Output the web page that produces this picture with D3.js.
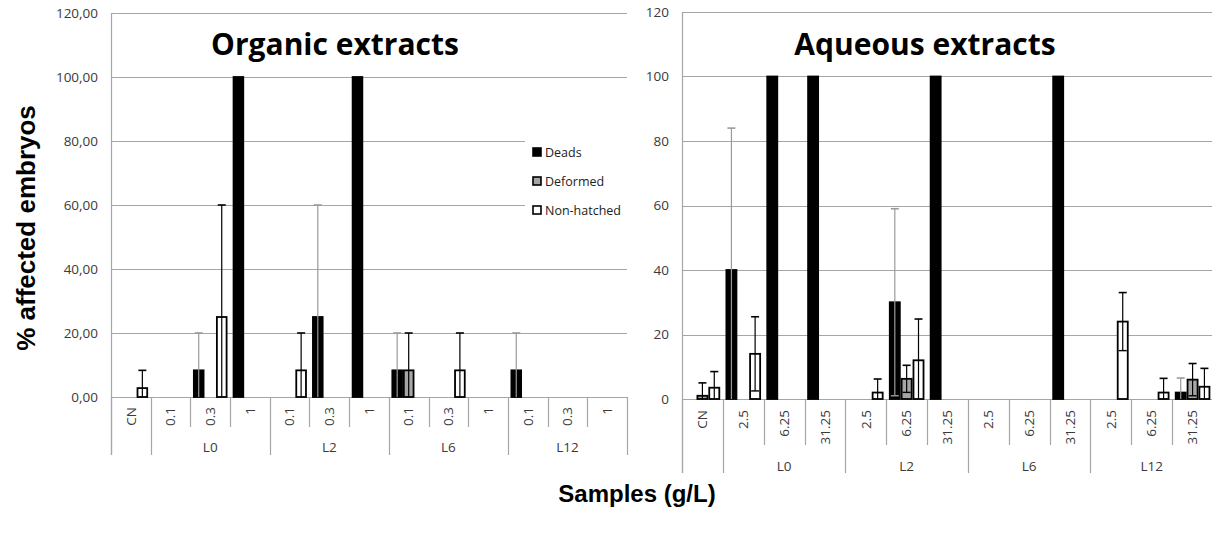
<!DOCTYPE html>
<html><head><meta charset="utf-8">
<script src="https://cdn.jsdelivr.net/npm/d3@7"></script>
<style>
html,body{margin:0;padding:0;background:#fff;}
svg{display:block;font-family:"Liberation Sans",Arial,sans-serif;}
</style></head>
<body><svg id="chart" width="1212" height="536"></svg>
<script>
// ---------------- DATA ----------------
const seriesNames = ["Deads", "Deformed", "Non-hatched"];
const groupNames = ["", "L0", "L2", "L6", "L12"];
const yTicks = [0, 20, 40, 60, 80, 100, 120];

// Organic extracts
const orgCategories = ["CN", "0.1", "0.3", "1", "0.1", "0.3", "1", "0.1", "0.3", "1", "0.1", "0.3", "1"];
const orgGroupOf   = [0, 1, 1, 1, 2, 2, 2, 3, 3, 3, 4, 4, 4];
const orgDeads        = [0, 0, 8.33, 100, 0, 25, 100, 8.33, 0, 0, 8.33, 0, 0];
const orgDeadsErr     = [0, 0, 11.67, 0, 0, 35, 0, 11.67, 0, 0, 11.67, 0, 0];
const orgDeformed     = [0, 0, 0, 0, 0, 0, 0, 8.33, 0, 0, 0, 0, 0];
const orgDeformedErr  = [0, 0, 0, 0, 0, 0, 0, 11.67, 0, 0, 0, 0, 0];
const orgNonHatched   = [2.78, 0, 25, 0, 8.33, 0, 0, 0, 8.33, 0, 0, 0, 0];
const orgNonHatchedErr= [5.55, 0, 35, 0, 11.67, 0, 0, 0, 11.67, 0, 0, 0, 0];

// Aqueous extracts
const aqCategories = ["CN", "2.5", "6.25", "31.25", "2.5", "6.25", "31.25", "2.5", "6.25", "31.25", "2.5", "6.25", "31.25"];
const aqGroupOf   = [0, 1, 1, 1, 2, 2, 2, 3, 3, 3, 4, 4, 4];
const aqDeads        = [0, 40, 100, 100, 0, 30, 100, 0, 0, 100, 0, 0, 2];
const aqDeadsErr     = [0, 44, 0, 0, 0, 29, 0, 0, 0, 0, 0, 0, 4.5];
const aqDeformed     = [1, 0, 0, 0, 0, 6.25, 0, 0, 0, 0, 0, 0, 6];
const aqDeformedErr  = [4, 0, 0, 0, 0, 4.2, 0, 0, 0, 0, 0, 0, 5];
const aqNonHatched   = [3.5, 14, 0, 0, 2, 12, 0, 0, 0, 0, 24, 2, 3.8];
const aqNonHatchedErr= [5, 11.5, 0, 0, 4.2, 12.8, 0, 0, 0, 0, 9, 4.4, 5.7];

// ---------------- STYLE ----------------
const fills = ["#000000", "#a6a6a6", "#ffffff"];
const errColors = ["#9a9a9a", "#000000", "#000000"];
const gridColor = "#a6a6a6";
const textColor = "#3a3a3a";
const labelFont = "'Open Sans', 'Liberation Sans', Arial, sans-serif";

const svg = d3.select("#chart");

function drawPanel(cfg) {
  const g = svg.append("g");
  const x = d3.scaleBand().domain(d3.range(cfg.categories.length)).range([cfg.x0, cfg.x1]).padding(0);
  const y = d3.scaleLinear().domain([0, 120]).range([cfg.yBase, cfg.yTop]);
  const bw = x.bandwidth() * 0.29;

  // gridlines
  g.append("g").selectAll("line").data(yTicks).join("line")
    .attr("x1", cfg.x0).attr("x2", cfg.x1)
    .attr("y1", d => Math.round(y(d)) + 0.5).attr("y2", d => Math.round(y(d)) + 0.5)
    .attr("stroke", gridColor).attr("stroke-width", 1.2);

  // legend cover (white box)
  if (cfg.legend) {
    g.append("rect").attr("x", cfg.legend.x - 8).attr("y", cfg.legend.y - 22)
      .attr("width", 110).attr("height", 95).attr("fill", "#fff");
  }

  // y axis line
  g.append("line").attr("x1", cfg.x0 + 0.5).attr("x2", cfg.x0 + 0.5)
    .attr("y1", y(120)).attr("y2", cfg.groupBottom)
    .attr("stroke", gridColor).attr("stroke-width", 1.2);

  // y tick labels
  const yAxis = d3.axisLeft(y).tickValues(yTicks).tickSize(0).tickPadding(0)
    .tickFormat(cfg.tickFormat);
  const ya = g.append("g").attr("transform", `translate(${cfg.labelRight},0)`).call(yAxis);
  ya.select(".domain").remove();
  ya.selectAll("text").attr("fill", textColor).style("font-size", "13.5px")
    .style("font-family", labelFont);

  // category separators
  const cats = cfg.categories.map((c, i) => i);
  const bounds = d3.range(cfg.categories.length + 1);
  g.append("g").selectAll("line").data(bounds).join("line")
    .attr("x1", i => Math.round(i < cfg.categories.length ? x(i) : cfg.x1) + 0.5)
    .attr("x2", i => Math.round(i < cfg.categories.length ? x(i) : cfg.x1) + 0.5)
    .attr("y1", cfg.yBase)
    .attr("y2", i => {
      const isGroupBound = i === 0 || i === cfg.categories.length || cfg.groupOf[i] !== cfg.groupOf[i - 1];
      return isGroupBound ? cfg.groupBottom : cfg.catBottom;
    })
    .attr("stroke", gridColor).attr("stroke-width", 1.2);

  // category labels
  g.append("g").selectAll("text").data(cats).join("text")
    .attr("transform", i => `translate(${x(i) + x.bandwidth() / 2},${cfg.yBase + cfg.catLabelOffset}) rotate(-90)`)
    .attr("text-anchor", "end").attr("dy", "0.35em")
    .attr("fill", textColor).style("font-size", "13.5px")
    .style("font-family", labelFont)
    .text(i => cfg.categories[i]);

  // group labels
  const groups = d3.groups(cats, i => cfg.groupOf[i]).filter(d => groupNames[d[0]] !== "");
  g.append("g").selectAll("text").data(groups).join("text")
    .attr("x", d => (x(d[1][0]) + x(d[1][d[1].length - 1]) + x.bandwidth()) / 2)
    .attr("y", cfg.groupLabelY)
    .attr("text-anchor", "middle").attr("fill", textColor).style("font-size", "13.5px")
    .style("font-family", labelFont)
    .text(d => groupNames[d[0]]);

  // bars
  const series = [cfg.deads, cfg.deformed, cfg.nonHatched];
  const errs = [cfg.deadsErr, cfg.deformedErr, cfg.nonHatchedErr];
  const barData = [];
  series.forEach((vals, s) => vals.forEach((v, i) => {
    barData.push({s, i, v, e: errs[s][i]});
  }));
  const barX = d => x(d.i) + x.bandwidth() / 2 + (d.s - 1.5) * bw;
  g.append("g").selectAll("rect").data(barData.filter(d => d.v > 0)).join("rect")
    .attr("x", d => barX(d) + 0.9).attr("width", bw - 1.8)
    .attr("y", d => y(d.v)).attr("height", d => y(0) - y(d.v))
    .attr("fill", d => fills[d.s]).attr("stroke", "#000").attr("stroke-width", 1.8);

  // error bars (symmetric, clipped to axis range)
  const errData = barData.filter(d => d.e > 0);
  const eg = g.append("g");
  const cx = d => barX(d) + bw / 2;
  eg.selectAll("line.v").data(errData).join("line").attr("class", "v")
    .attr("x1", cx).attr("x2", cx)
    .attr("y1", d => y(Math.max(0, d.v - d.e))).attr("y2", d => y(Math.min(120, d.v + d.e)))
    .attr("stroke", d => errColors[d.s]).attr("stroke-width", 1.2);
  eg.selectAll("line.top").data(errData).join("line").attr("class", "top")
    .attr("x1", d => cx(d) - 4).attr("x2", d => cx(d) + 4)
    .attr("y1", d => y(d.v + d.e)).attr("y2", d => y(d.v + d.e))
    .attr("stroke", d => errColors[d.s]).attr("stroke-width", 1.6);
  eg.selectAll("line.bot").data(errData.filter(d => d.v - d.e > 0)).join("line").attr("class", "bot")
    .attr("x1", d => cx(d) - 4).attr("x2", d => cx(d) + 4)
    .attr("y1", d => y(d.v - d.e)).attr("y2", d => y(d.v - d.e))
    .attr("stroke", d => errColors[d.s]).attr("stroke-width", 1.4);

  // title
  g.append("text").attr("x", cfg.titleX).attr("y", 55).attr("text-anchor", "middle")
    .style("font-family", labelFont)
    .style("font-size", "30px").style("font-weight", "bold").attr("fill", "#000")
    .text(cfg.title);

  // legend
  if (cfg.legend) {
    const lg = g.append("g").attr("transform", `translate(${cfg.legend.x},${cfg.legend.y})`);
    seriesNames.forEach((n, s) => {
      const row = lg.append("g").attr("transform", `translate(0,${s * 29})`);
      row.append("rect").attr("x", 0).attr("y", -9).attr("width", 8).attr("height", 8)
        .attr("fill", fills[s]).attr("stroke", "#000").attr("stroke-width", 1.6);
      row.append("text").attr("x", 12).attr("y", 0).attr("fill", "#222")
        .style("font-size", "12.5px")
        .style("font-family", labelFont)
        .text(n);
    });
  }
}

drawPanel({
  categories: orgCategories, groupOf: orgGroupOf,
  deads: orgDeads, deadsErr: orgDeadsErr, deformed: orgDeformed, deformedErr: orgDeformedErr,
  nonHatched: orgNonHatched, nonHatchedErr: orgNonHatchedErr,
  x0: 111, x1: 627, yBase: 397, yTop: 13,
  catBottom: 427, groupBottom: 455, catLabelOffset: 10, groupLabelY: 452,
  labelRight: 98, tickFormat: d => d3.format(".2f")(d).replace(".", ","),
  title: "Organic extracts", titleX: 335,
  legend: {x: 533, y: 157}
});

drawPanel({
  categories: aqCategories, groupOf: aqGroupOf,
  deads: aqDeads, deadsErr: aqDeadsErr, deformed: aqDeformed, deformedErr: aqDeformedErr,
  nonHatched: aqNonHatched, nonHatchedErr: aqNonHatchedErr,
  x0: 682, x1: 1213, yBase: 399, yTop: 12,
  catBottom: 445, groupBottom: 473, catLabelOffset: 11, groupLabelY: 471,
  labelRight: 669, tickFormat: d3.format("d"),
  title: "Aqueous extracts", titleX: 925,
  legend: null
});

// axis titles
svg.append("text").attr("transform", "translate(35,228) rotate(-90)")
  .attr("text-anchor", "middle").style("font-size", "26px").style("font-weight", "bold")
  .attr("fill", "#000").text("% affected embryos");
svg.append("text").attr("x", 637).attr("y", 502)
  .attr("text-anchor", "middle").style("font-size", "24px").style("font-weight", "bold")
  .attr("fill", "#000").text("Samples (g/L)");
</script></body></html>
